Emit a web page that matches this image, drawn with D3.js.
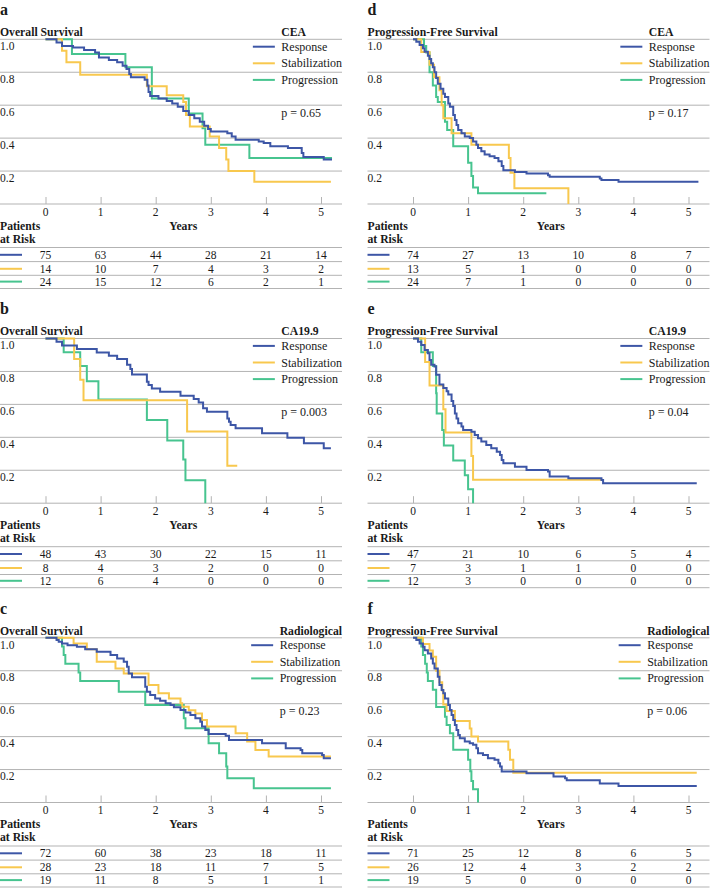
<!DOCTYPE html>
<html><head><meta charset="utf-8">
<script src="https://cdn.jsdelivr.net/npm/d3@7"></script>
<style>
body{margin:0;background:#fff}
svg{display:block}
text{font-family:"Liberation Serif","Times New Roman",serif;fill:#1a1a1a}
</style>
</head><body><svg id="chart" width="710" height="889"></svg>
<script>
// ---------- data ----------
const years = [0, 1, 2, 3, 4, 5];
const yTicks = [0.2, 0.4, 0.6, 0.8, 1.0];
const groups = ["Response", "Stabilization", "Progression"];
const groupColors = ["#3d56a6", "#f8c84e", "#47c48f"];
const panelLetters = ["a", "b", "c", "d", "e", "f"];
const panelTitles = ["Overall Survival", "Overall Survival", "Overall Survival",
  "Progression-Free Survival", "Progression-Free Survival", "Progression-Free Survival"];
const markers = ["CEA", "CA19.9", "Radiological", "CEA", "CA19.9", "Radiological"];
const pValues = ["p = 0.65", "p = 0.003", "p = 0.23", "p = 0.17", "p = 0.04", "p = 0.06"];

// Kaplan-Meier steps: [years, survival]; last point marks the end of follow-up
const osCeaResponse = [[0,1],[0.2,0.98],[0.3,0.96],[0.5,0.95],[0.7,0.935],[0.9,0.92],[0.97,0.89],[1.15,0.875],[1.3,0.86],[1.4,0.84],[1.47,0.82],[1.52,0.79],[1.55,0.77],[1.8,0.755],[1.85,0.72],[1.87,0.68],[1.9,0.655],[2.05,0.64],[2.2,0.625],[2.3,0.61],[2.4,0.59],[2.5,0.565],[2.6,0.54],[2.7,0.52],[2.8,0.5],[2.88,0.475],[2.95,0.455],[3.0,0.44],[3.3,0.43],[3.38,0.41],[3.45,0.39],[3.87,0.38],[3.96,0.37],[4.08,0.35],[4.4,0.34],[4.65,0.31],[4.68,0.285],[5.05,0.27],[5.2,0.27]];
const osCeaStabilization = [[0,1],[0.3,0.93],[0.38,0.86],[0.63,0.785],[1.84,0.715],[2.2,0.66],[2.5,0.62],[2.55,0.54],[2.62,0.47],[2.98,0.41],[3.15,0.34],[3.28,0.27],[3.32,0.2],[3.79,0.135],[5.18,0.135]];
const osCeaProgression = [[0,1],[0.48,0.91],[1.45,0.83],[1.93,0.64],[2.6,0.55],[2.85,0.46],[2.9,0.36],[3.7,0.28],[5.2,0.28]];

const osCaResponse = [[0,1],[0.2,0.98],[0.3,0.957],[0.57,0.936],[0.93,0.915],[1.15,0.895],[1.3,0.875],[1.48,0.84],[1.54,0.815],[1.57,0.782],[1.84,0.737],[1.87,0.717],[1.93,0.697],[2.08,0.677],[2.45,0.653],[2.69,0.632],[2.78,0.612],[2.86,0.576],[2.93,0.556],[3.3,0.515],[3.33,0.495],[3.36,0.475],[3.45,0.455],[3.93,0.424],[4.39,0.398],[4.69,0.364],[5.05,0.333],[5.18,0.333]];
const osCaStabilization = [[0,1],[0.52,0.875],[0.63,0.75],[0.69,0.625],[2.57,0.435],[3.3,0.228],[3.48,0.228]];
const osCaProgression = [[0,1],[0.33,0.917],[0.63,0.833],[0.75,0.74],[0.96,0.63],[1.84,0.505],[2.21,0.38],[2.5,0.265],[2.54,0.14],[2.9,0]];

const osRadResponse = [[0,1],[0.2,0.986],[0.24,0.976],[0.3,0.966],[0.4,0.955],[0.57,0.945],[0.72,0.93],[0.93,0.915],[1.18,0.895],[1.3,0.875],[1.42,0.855],[1.48,0.824],[1.51,0.784],[1.57,0.76],[1.81,0.703],[1.84,0.673],[1.9,0.653],[1.99,0.632],[2.08,0.618],[2.18,0.602],[2.27,0.592],[2.33,0.578],[2.45,0.562],[2.54,0.547],[2.63,0.531],[2.72,0.511],[2.81,0.491],[2.84,0.461],[2.9,0.44],[2.96,0.416],[3.27,0.406],[3.33,0.38],[3.93,0.36],[4.36,0.329],[4.63,0.319],[4.66,0.299],[5.02,0.289],[5.05,0.269],[5.18,0.269]];
const osRadStabilization = [[0,1],[0.51,0.965],[0.75,0.93],[0.93,0.855],[1.27,0.814],[1.42,0.784],[1.87,0.713],[2.05,0.663],[2.24,0.632],[2.45,0.602],[2.48,0.582],[2.6,0.56],[2.72,0.541],[2.84,0.501],[2.93,0.461],[3.45,0.42],[3.66,0.37],[3.81,0.319],[4.05,0.279],[5.18,0.279]];
const osRadProgression = [[0,1],[0.3,0.947],[0.33,0.895],[0.36,0.842],[0.6,0.79],[0.63,0.737],[1.33,0.673],[1.81,0.592],[2.51,0.511],[2.54,0.451],[2.96,0.36],[3.15,0.299],[3.28,0.218],[3.3,0.147],[3.78,0.087],[5.18,0.087]];

const pfsCeaResponse = [[0,1],[0.06,0.985],[0.12,0.965],[0.18,0.945],[0.21,0.925],[0.27,0.9],[0.3,0.88],[0.33,0.855],[0.36,0.83],[0.39,0.8],[0.42,0.765],[0.45,0.73],[0.5,0.7],[0.55,0.67],[0.58,0.65],[0.64,0.61],[0.67,0.59],[0.73,0.54],[0.76,0.51],[0.79,0.48],[0.82,0.45],[0.88,0.43],[0.94,0.41],[1.03,0.4],[1.09,0.38],[1.15,0.36],[1.18,0.34],[1.24,0.32],[1.3,0.3],[1.39,0.29],[1.48,0.28],[1.55,0.26],[1.61,0.23],[1.64,0.205],[1.85,0.195],[2.06,0.185],[2.45,0.175],[2.48,0.165],[3.39,0.155],[3.42,0.145],[3.73,0.135],[5.18,0.135]];
const pfsCeaStabilization = [[0,1],[0.15,0.923],[0.3,0.846],[0.38,0.77],[0.48,0.69],[0.52,0.6],[0.55,0.52],[0.7,0.43],[1.06,0.36],[1.74,0.28],[1.77,0.19],[1.84,0.095],[2.82,0]];
const pfsCeaProgression = [[0,1],[0.2,0.96],[0.24,0.92],[0.3,0.8],[0.36,0.72],[0.42,0.65],[0.45,0.62],[0.58,0.5],[0.62,0.45],[0.73,0.35],[1.0,0.25],[1.06,0.17],[1.09,0.1],[1.18,0.065],[2.42,0.065]];

const pfsCaResponse = [[0,1],[0.09,0.98],[0.15,0.96],[0.21,0.93],[0.27,0.91],[0.3,0.87],[0.33,0.84],[0.39,0.83],[0.42,0.78],[0.48,0.72],[0.55,0.7],[0.61,0.68],[0.64,0.66],[0.7,0.62],[0.73,0.59],[0.76,0.545],[0.79,0.515],[0.82,0.485],[0.88,0.465],[0.91,0.445],[1.06,0.434],[1.12,0.414],[1.18,0.394],[1.24,0.374],[1.33,0.354],[1.42,0.333],[1.52,0.313],[1.58,0.293],[1.61,0.263],[1.64,0.242],[1.85,0.222],[2.06,0.202],[2.45,0.192],[2.48,0.162],[2.82,0.152],[3.42,0.141],[3.45,0.121],[5.15,0.121]];
const pfsCaStabilization = [[0,1],[0.22,0.857],[0.3,0.714],[0.55,0.571],[0.59,0.429],[1.06,0.286],[1.09,0.143],[3.45,0.143]];
const pfsCaProgression = [[0,1],[0.15,0.917],[0.36,0.833],[0.42,0.667],[0.43,0.545],[0.53,0.444],[0.56,0.35],[0.73,0.26],[0.94,0.17],[1.0,0.085],[1.09,0]];

const pfsRadResponse = [[0,1],[0.06,0.986],[0.12,0.966],[0.18,0.945],[0.21,0.925],[0.27,0.905],[0.33,0.875],[0.36,0.844],[0.39,0.814],[0.45,0.764],[0.48,0.713],[0.52,0.683],[0.55,0.663],[0.58,0.632],[0.64,0.592],[0.67,0.562],[0.7,0.531],[0.73,0.501],[0.76,0.471],[0.79,0.44],[0.82,0.41],[0.85,0.39],[0.94,0.37],[1.03,0.36],[1.09,0.35],[1.15,0.329],[1.18,0.299],[1.27,0.289],[1.36,0.269],[1.48,0.259],[1.55,0.238],[1.58,0.218],[1.61,0.188],[2.06,0.178],[2.55,0.158],[2.76,0.147],[2.79,0.135],[3.39,0.115],[3.73,0.1],[5.15,0.1]];
const pfsRadStabilization = [[0,1],[0.18,0.962],[0.3,0.923],[0.36,0.885],[0.42,0.8],[0.48,0.73],[0.53,0.68],[0.55,0.595],[0.61,0.555],[0.76,0.495],[1.03,0.45],[1.06,0.4],[1.18,0.37],[1.73,0.32],[1.76,0.26],[1.82,0.18],[5.15,0.18]];
const pfsRadProgression = [[0,1],[0.15,0.947],[0.18,0.895],[0.22,0.842],[0.25,0.79],[0.27,0.737],[0.36,0.684],[0.42,0.58],[0.58,0.52],[0.61,0.47],[0.67,0.42],[0.73,0.32],[1.0,0.26],[1.04,0.19],[1.06,0.13],[1.09,0.08],[1.18,0]];

// patients at risk at years 0..5
const riskOsCea = [[75,63,44,28,21,14],[14,10,7,4,3,2],[24,15,12,6,2,1]];
const riskOsCa = [[48,43,30,22,15,11],[8,4,3,2,0,0],[12,6,4,0,0,0]];
const riskOsRad = [[72,60,38,23,18,11],[28,23,18,11,7,5],[19,11,8,5,1,1]];
const riskPfsCea = [[74,27,13,10,8,7],[13,5,1,0,0,0],[24,7,1,0,0,0]];
const riskPfsCa = [[47,21,10,6,5,4],[7,3,1,1,0,0],[12,3,0,0,0,0]];
const riskPfsRad = [[71,25,12,8,6,5],[26,12,4,3,2,2],[19,5,0,0,0,0]];

const panelCurves = [
  [osCeaResponse, osCeaStabilization, osCeaProgression],
  [osCaResponse, osCaStabilization, osCaProgression],
  [osRadResponse, osRadStabilization, osRadProgression],
  [pfsCeaResponse, pfsCeaStabilization, pfsCeaProgression],
  [pfsCaResponse, pfsCaStabilization, pfsCaProgression],
  [pfsRadResponse, pfsRadStabilization, pfsRadProgression]
];
const panelRisk = [riskOsCea, riskOsCa, riskOsRad, riskPfsCea, riskPfsCa, riskPfsRad];

// ---------- layout ----------
const svg = d3.select("#chart");
const colX = [0, 367.5];
const rowY = [0, 299.2, 598.5];
const W = 342;
const gridGray = "#b3b3b3";

panelLetters.forEach((letter, i) => {
  const X0 = colX[i < 3 ? 0 : 1];
  const Y0 = rowY[i % 3];
  const g = svg.append("g");
  const x = d3.scaleLinear().domain([0, 5]).range([X0 + 45.5, X0 + 45.5 + 275.5]);
  const y = d3.scaleLinear().domain([0, 1]).range([Y0 + 204, Y0 + 39.3]);

  g.append("text").attr("x", X0).attr("y", Y0 + 15)
    .style("font-weight", "bold").style("font-size", "16px").text(letter);
  g.append("text").attr("x", X0).attr("y", Y0 + 36)
    .style("font-weight", "bold").style("font-size", "11.7px").text(panelTitles[i]);

  // gridlines + y labels
  g.selectAll(".grid").data(yTicks).join("line")
    .attr("x1", X0).attr("x2", X0 + W)
    .attr("y1", d => y(d)).attr("y2", d => y(d))
    .attr("stroke", gridGray).attr("stroke-width", 1);
  g.selectAll(".ylab").data(yTicks).join("text")
    .attr("x", X0).attr("y", d => y(d) + 10.7)
    .style("font-size", "11.5px").text(d => d.toFixed(1));

  // x axis
  const axisG = g.append("g").attr("transform", `translate(0,${y(0)})`)
    .call(d3.axisTop(x).tickValues(years).tickSize(7).tickFormat(""));
  axisG.select(".domain").remove();
  axisG.selectAll("line").attr("stroke", gridGray);
  g.append("line").attr("x1", X0).attr("x2", X0 + W)
    .attr("y1", y(0)).attr("y2", y(0)).attr("stroke", gridGray);
  g.selectAll(".xlab").data(years).join("text")
    .attr("x", d => x(d)).attr("y", y(0) + 11.5)
    .attr("text-anchor", "middle").style("font-size", "11.5px").text(d => d);
  g.append("text").attr("x", x(2.5)).attr("y", Y0 + 229.5)
    .attr("text-anchor", "middle").style("font-weight", "bold").style("font-size", "11.7px").text("Years");
  g.append("text").attr("x", X0).attr("y", Y0 + 229.5)
    .style("font-weight", "bold").style("font-size", "11.7px").text("Patients");
  g.append("text").attr("x", X0).attr("y", Y0 + 242.8)
    .style("font-weight", "bold").style("font-size", "11.7px").text("at Risk");

  // curves
  const line = d3.line().x(d => x(d[0])).y(d => y(d[1])).curve(d3.curveStepAfter);
  [2, 1, 0].forEach(k => {
    g.append("path").datum(panelCurves[i][k])
      .attr("d", line).attr("fill", "none")
      .attr("stroke", groupColors[k]).attr("stroke-width", 2);
  });

  // legend
  const mk = g.append("text").attr("y", Y0 + 36)
    .style("font-weight", "bold").style("font-size", "11.7px").text(markers[i]);
  const probe = g.append("text").style("font-size", "12px").text("Stabilization");
  const maxW = Math.max(mk.node().getComputedTextLength(), probe.node().getComputedTextLength());
  probe.remove();
  const lx = X0 + W - maxW;
  mk.attr("x", lx);
  groups.forEach((name, k) => {
    const cy = Y0 + 46.7 + k * 16.6;
    g.append("line").attr("x1", lx - 28.5).attr("x2", lx - 6.5)
      .attr("y1", cy).attr("y2", cy).attr("stroke", groupColors[k]).attr("stroke-width", 2);
    g.append("text").attr("x", lx).attr("y", cy + 4).style("font-size", "12px").text(name);
  });
  g.append("text").attr("x", lx).attr("y", Y0 + 116.7).style("font-size", "12px").text(pValues[i]);

  // at-risk table
  const rowC = [254.8, 268.8, 281.6];
  const lines = [247.5, 261.6, 275.3, 288.5];
  lines.forEach(ly => g.append("line").attr("x1", X0).attr("x2", X0 + W)
    .attr("y1", Y0 + ly).attr("y2", Y0 + ly).attr("stroke", gridGray));
  panelRisk[i].forEach((row, k) => {
    const cy = Y0 + rowC[k];
    g.append("line").attr("x1", X0).attr("x2", X0 + 22)
      .attr("y1", cy).attr("y2", cy).attr("stroke", groupColors[k]).attr("stroke-width", 2);
    g.selectAll(null).data(row).join("text")
      .attr("x", (d, j) => x(years[j])).attr("y", cy + 4)
      .attr("text-anchor", "middle").style("font-size", "11.5px").text(d => d);
  });
});
</script>
</body></html>
